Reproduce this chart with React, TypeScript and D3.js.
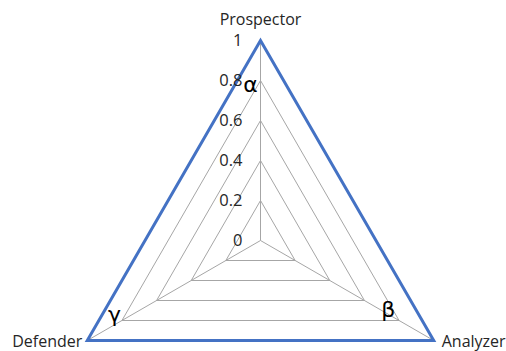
import { useEffect, useRef } from "react";
import * as d3 from "d3";

// radar chart data
const axes = ["Prospector", "Analyzer", "Defender"];
const values = [1, 1, 1];
const ticks = [0, 0.2, 0.4, 0.6, 0.8, 1];
const markers = ["α", "β", "γ"];
const markerAt = [0.78, 0.72, 0.82];

export default function App() {
  const gRef = useRef<SVGGElement>(null);

  const width = 506;
  const height = 351;
  const cx = 260.5;
  const cy = 240.5;
  const radius = 200;

  const r = d3.scaleLinear().domain([0, 1]).range([0, radius]);
  const angle = d3.scalePoint<string>()
    .domain(axes)
    .range([0, (2 * Math.PI * (axes.length - 1)) / axes.length]);

  const pt = (a: string, v: number): [number, number] => {
    const t = angle(a)!;
    return [Math.sin(t) * r(v), -Math.cos(t) * r(v)];
  };

  useEffect(() => {
    const g = d3.select(gRef.current);

    const radial = d3.lineRadial<number>()
      .angle((_, i) => angle(axes[i])!)
      .radius(d => r(d))
      .curve(d3.curveLinearClosed);

    // grid triangles
    g.append("g")
      .attr("fill", "none")
      .attr("stroke", "#a6a6a6")
      .attr("stroke-width", 1)
      .selectAll("path")
      .data(ticks.slice(1))
      .join("path")
      .attr("d", t => radial(axes.map(() => t)));

    // spokes
    g.append("g")
      .attr("stroke", "#a6a6a6")
      .selectAll("line")
      .data(axes)
      .join("line")
      .attr("x1", 0).attr("y1", 0)
      .attr("x2", a => pt(a, 1)[0])
      .attr("y2", a => pt(a, 1)[1]);

    // series
    g.append("path")
      .datum(values)
      .attr("d", radial)
      .attr("fill", "none")
      .attr("stroke", "#4472c4")
      .attr("stroke-width", 3)
      .attr("stroke-linejoin", "miter");

    // tick labels
    g.append("g")
      .attr("font-family", "'Open Sans', sans-serif")
      .attr("font-size", 16.5)
      .attr("fill", "#262626")
      .attr("text-anchor", "end")
      .selectAll("text")
      .data(ticks)
      .join("text")
      .attr("x", -18)
      .attr("y", t => -r(t))
      .attr("dy", "0.35em")
      .text(t => String(t));

    // axis labels
    const anchors = ["middle", "start", "end"];
    const offs: [number, number][] = [[0, -21], [8, 1], [-5, 1]];
    g.append("g")
      .attr("font-family", "'Open Sans', sans-serif")
      .attr("font-size", 16)
      .attr("fill", "#262626")
      .selectAll("text")
      .data(axes)
      .join("text")
      .attr("text-anchor", (_, i) => anchors[i])
      .attr("x", (a, i) => pt(a, 1)[0] + offs[i][0])
      .attr("y", (a, i) => pt(a, 1)[1] + offs[i][1])
      .attr("dy", "0.35em")
      .text(a => a);

    // greek markers
    const mOffs: [number, number][] = [[-10, 0], [3, -3], [-4, -8]];
    g.append("g")
      .attr("font-family", "'DejaVu Sans', sans-serif")
      .attr("font-size", 22)
      .attr("fill", "#000")
      .attr("text-anchor", "middle")
      .selectAll("text")
      .data(markers)
      .join("text")
      .attr("x", (_, i) => pt(axes[i], markerAt[i])[0] + mOffs[i][0])
      .attr("y", (_, i) => pt(axes[i], markerAt[i])[1] + mOffs[i][1])
      .attr("dy", "0.35em")
      .text(m => m);

    return () => { g.selectAll("*").remove(); };
  }, []);

  return (
    <svg width={width} height={height} style={{ position: "absolute", left: 0, top: 0, background: "#fff" }}>
      <g ref={gRef} transform={`translate(${cx}, ${cy})`}></g>
    </svg>
  );
}
